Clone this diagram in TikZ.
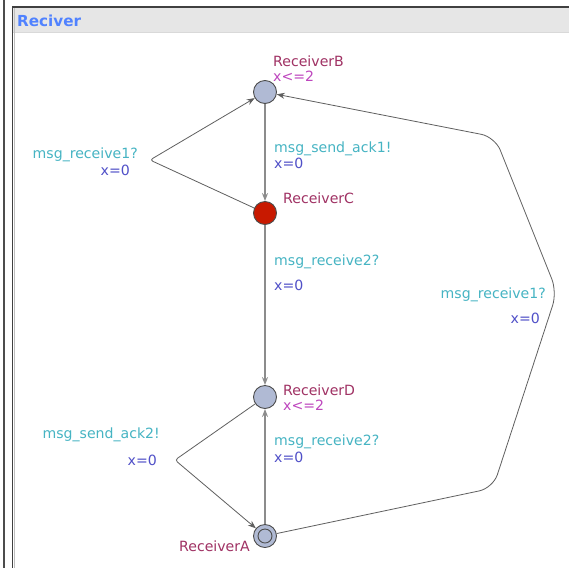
\documentclass[tikz,border=0pt]{standalone}
\usepackage{fontspec}
\setmainfont{DejaVu Sans}
\usetikzlibrary{arrows.meta}

\definecolor{locname}{RGB}{160,50,100}
\definecolor{invcol}{RGB}{190,70,190}
\definecolor{synccol}{RGB}{70,180,195}
\definecolor{assigncol}{RGB}{80,80,200}
\definecolor{locfill}{RGB}{176,186,212}
\definecolor{urgentfill}{RGB}{200,25,0}
\definecolor{edgecol}{RGB}{95,95,95}
\definecolor{titlecol}{RGB}{80,130,255}
\definecolor{barfill}{RGB}{230,230,230}

\begin{document}
\begin{tikzpicture}[x=1pt,y=-1pt,
  loc/.style={circle,draw=black!70,fill=locfill,line width=0.9pt,minimum size=23pt,inner sep=0pt},
  txt/.style={font=\fontsize{14.1}{15}\selectfont,inner sep=0pt},
  nm/.style={txt,text=locname},
  inv/.style={txt,text=invcol},
  sync/.style={txt,text=synccol},
  asg/.style={txt,text=assigncol},
  edge/.style={draw=edgecol,line width=0.8pt,-{Stealth[length=8pt,width=6pt]}},
  vedge/.style={edge,draw=black!45,line width=1.3pt}]
\useasboundingbox (0,0) rectangle (569,568);

% window frame and title bar
\fill[white] (0,0) rectangle (569,568);
\draw[black!70,line width=2pt] (4,0) -- (4,568);
\fill[barfill] (13,8) rectangle (569,32);
\draw[white!85!black,line width=0.8pt] (13,32.5) -- (569,32.5);
\draw[black!75,line width=1.6pt] (12,7) -- (569,7);
\draw[black!75,line width=1.2pt] (12.5,7) -- (12.5,568);
\draw[black!25,line width=0.8pt] (14,8) -- (14,568);
\node[anchor=base west,inner sep=0pt,text=titlecol,font=\bfseries\fontsize{15.2}{17}\selectfont] (title) at (17,26) {Reciver};

% locations
\node[loc] (B) at (265,92) {};
\node[loc,fill=urgentfill] (C) at (265,213) {};
\node[loc] (D) at (265,397) {};
\node[loc] (A) at (265,536) {};
\node[circle,draw=black!70,line width=0.9pt,minimum size=14pt,inner sep=0pt] (Ain) at (A) {};

% bend points
\coordinate (cb) at (150,160);
\coordinate (da) at (175,460);
\coordinate (ab1) at (493,488);
\coordinate (ab2) at (557,292);
\coordinate (ab3) at (495,137);

% transitions
\draw[vedge] (B) -- (C);
\draw[vedge] (C) -- (D);
\draw[vedge] (A) -- (D);
\draw[edge,rounded corners=3pt] (C) -- (cb) -- (B);
\draw[edge,rounded corners=3pt] (D) -- (da) -- (A);
\draw[edge,rounded corners=14pt] (A) -- (ab1) -- (ab2) -- (ab3) -- (B);

% location names and invariants
\node[nm,anchor=base west] (nB) at (273,66) {ReceiverB};
\node[inv,anchor=base west] (iB) at (273,81) {x<=2};
\node[nm,anchor=base west] (nC) at (283,203) {ReceiverC};
\node[nm,anchor=base west] (nD) at (283,395) {ReceiverD};
\node[inv,anchor=base west] (iD) at (283,410) {x<=2};
\node[nm,anchor=base east] (nA) at (250,551) {ReceiverA};

% edge labels
\node[sync,anchor=base west] (s1) at (274,152) {msg\_send\_ack1!};
\node[asg,anchor=base west] (a1) at (274,168) {x=0};
\node[sync,anchor=base west] (s2) at (274,265) {msg\_receive2?};
\node[asg,anchor=base west] (a2) at (274,290) {x=0};
\node[sync,anchor=base west] (s3) at (274,445) {msg\_receive2?};
\node[asg,anchor=base west] (a3) at (274,462) {x=0};
\node[sync,anchor=base east] (s4) at (138,158) {msg\_receive1?};
\node[asg,anchor=base east] (a4) at (130,175) {x=0};
\node[sync,anchor=base east] (s5) at (160,438) {msg\_send\_ack2!};
\node[asg,anchor=base east] (a5) at (157,465) {x=0};
\node[sync,anchor=base east] (s6) at (546,298) {msg\_receive1?};
\node[asg,anchor=base east] (a6) at (540,323) {x=0};
\end{tikzpicture}
\end{document}
